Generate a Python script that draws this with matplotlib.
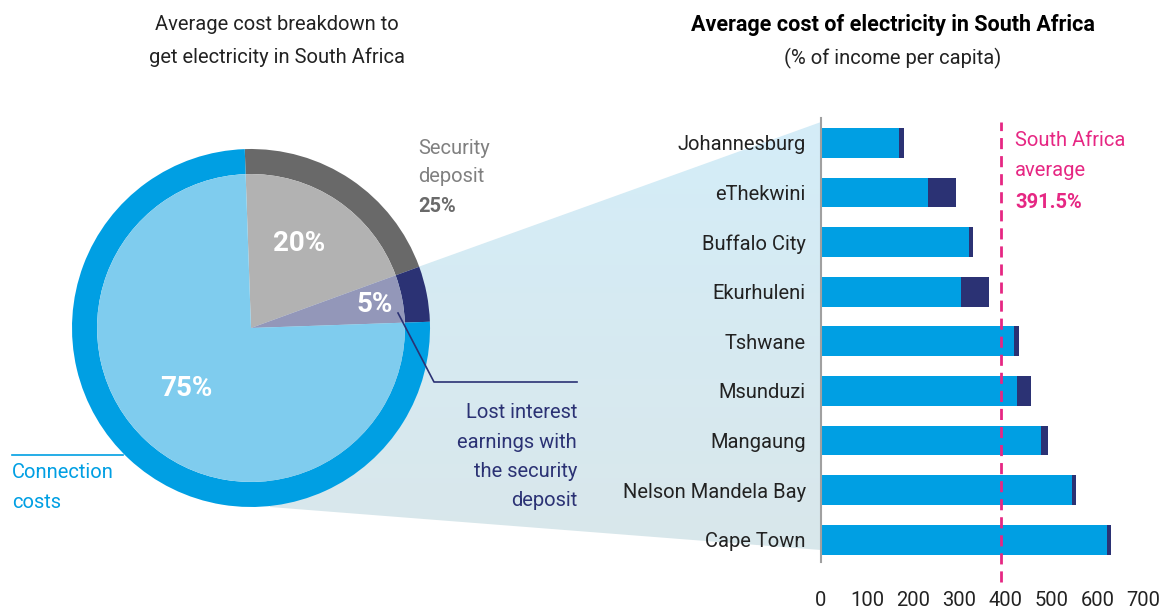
import numpy as np
import matplotlib
matplotlib.use("Agg")
import matplotlib.pyplot as plt
from matplotlib.patches import Polygon
from matplotlib.colors import LinearSegmentedColormap

plt.rcParams['font.family'] = ['Roboto', 'DejaVu Sans']

# --- data ---
cities = ["Johannesburg", "eThekwini", "Buffalo City", "Ekurhuleni", "Tshwane",
          "Msunduzi", "Mangaung", "Nelson Mandela Bay", "Cape Town"]
connection_costs = [170, 233, 322, 304, 419, 426, 478, 545, 621]
lost_interest = [10, 61, 8, 61, 11, 30, 15, 9, 9]
sa_average = 391.5
x_ticks = [0, 100, 200, 300, 400, 500, 600, 700]

pie_shares = [20, 5, 75]          # security deposit, lost interest, connection
pie_labels = ["20%", "5%", "75%"]
ring_colors = ["#696969", "#2b3274", "#009fe3"]
inner_colors = ["#b2b2b2", "#9397b9", "#7fccee"]

BLUE = "#009fe3"
NAVY = "#2b3274"
PINK = "#e62783"
TXT = "#222222"
FS = 14.5

W, H = 1172, 612
fig = plt.figure(figsize=(W / 100, H / 100), dpi=100)

# background axes in pixel coords (for the zoom wedge)
ax_bg = fig.add_axes([0, 0, 1, 1], zorder=0)
ax_bg.set_xlim(0, W)
ax_bg.set_ylim(H, 0)
ax_bg.axis("off")

wedge = Polygon([(251, 328), (418, 267), (821, 122), (821, 550), (270, 507)],
                closed=True, facecolor="none", edgecolor="none")
ax_bg.add_patch(wedge)
cmap = LinearSegmentedColormap.from_list("shade", ["#d4edf8", "#d9e7eb"])
grad = np.linspace(0, 1, 256).reshape(-1, 1)
img = ax_bg.imshow(grad, cmap=cmap, extent=(240, 821, 550, 122), aspect="auto")
img.set_clip_path(wedge)

# --- pie ---
cx, cy, r = 251, 328, 179
ax_pie = fig.add_axes([(cx - r) / W, (H - cy - r) / H, 2 * r / W, 2 * r / H], zorder=1)
ax_pie.pie(pie_shares, colors=ring_colors, startangle=92, counterclock=False, radius=1,
           wedgeprops=dict(width=0.14, linewidth=0))
ax_pie.pie(pie_shares, colors=inner_colors, startangle=92, counterclock=False, radius=0.86,
           wedgeprops=dict(linewidth=0))
ax_pie.set_xlim(-1, 1)
ax_pie.set_ylim(-1, 1)
label_pos = [(0.27, 0.47), (0.69, 0.13), (-0.36, -0.34)]
for lab, (lx, ly) in zip(pie_labels, label_pos):
    ax_pie.text(lx, ly, lab, color="white", fontsize=20, fontweight="bold",
                ha="center", va="center")

# --- bars ---
ax = fig.add_axes([821 / W, (H - 562) / H, (W - 821) / W, 444 / H], zorder=1)
ax.set_facecolor("none")
y = np.arange(len(cities))
ax.barh(y, connection_costs, height=0.6, color=BLUE)
ax.barh(y, lost_interest, left=connection_costs, height=0.6, color=NAVY)
ax.set_ylim(8.45, -0.5)
ax.set_xlim(0, 762)
ax.set_yticks(y)
ax.set_yticklabels(cities, fontsize=FS, color=TXT)
ax.set_xticks(x_ticks)
ax.set_xticklabels([str(t) for t in x_ticks], fontsize=FS, color=TXT)
ax.tick_params(axis="y", length=0, pad=11)
ax.tick_params(axis="x", length=0, pad=21)
for s in ["top", "right", "bottom"]:
    ax.spines[s].set_visible(False)
ax.spines["left"].set_color("#a0a0a0")
ax.spines["left"].set_linewidth(1.5)
ax.axvline(sa_average, ymin=-0.045, ymax=0.99, clip_on=False, color=PINK,
           lw=2, ls=(0, (4, 2.5)))

# --- overlay text ---
ax_t = fig.add_axes([0, 0, 1, 1], zorder=3)
ax_t.set_xlim(0, W)
ax_t.set_ylim(H, 0)
ax_t.axis("off")
ax_t.patch.set_alpha(0)

ax_t.text(277, 25, "Average cost breakdown to", fontsize=FS, color=TXT, ha="center", va="center")
ax_t.text(277, 57, "get electricity in South Africa", fontsize=FS, color=TXT, ha="center", va="center")
ax_t.text(893, 25, "Average cost of electricity in South Africa", fontsize=15.5, color="black",
          fontweight="bold", ha="center", va="center")
ax_t.text(893, 58, "(% of income per capita)", fontsize=FS, color=TXT, ha="center", va="center")

ax_t.text(418, 148, "Security", fontsize=FS, color="#808080", ha="left", va="center")
ax_t.text(418, 177, "deposit", fontsize=FS, color="#808080", ha="left", va="center")
ax_t.text(418, 206, "25%", fontsize=FS, color="#6a6a6a", fontweight="bold", ha="left", va="center")

ax_t.plot([398, 434, 577], [313, 382, 382], color=NAVY, lw=1.2)
for i, line in enumerate(["Lost interest", "earnings with", "the security", "deposit"]):
    ax_t.text(577, 413 + 29.3 * i, line, fontsize=FS, color=NAVY, ha="right", va="center")

ax_t.plot([12, 123], [455, 455], color=BLUE, lw=1.2)
ax_t.text(12, 473, "Connection", fontsize=FS, color=BLUE, ha="left", va="center")
ax_t.text(12, 502, "costs", fontsize=FS, color=BLUE, ha="left", va="center")

ax_t.text(1015, 140, "South Africa", fontsize=FS, color=PINK, ha="left", va="center")
ax_t.text(1015, 171, "average", fontsize=FS, color=PINK, ha="left", va="center")
ax_t.text(1015, 203, "391.5%", fontsize=FS, color=PINK, fontweight="bold", ha="left", va="center")

fig.savefig("out.png", dpi=100)
